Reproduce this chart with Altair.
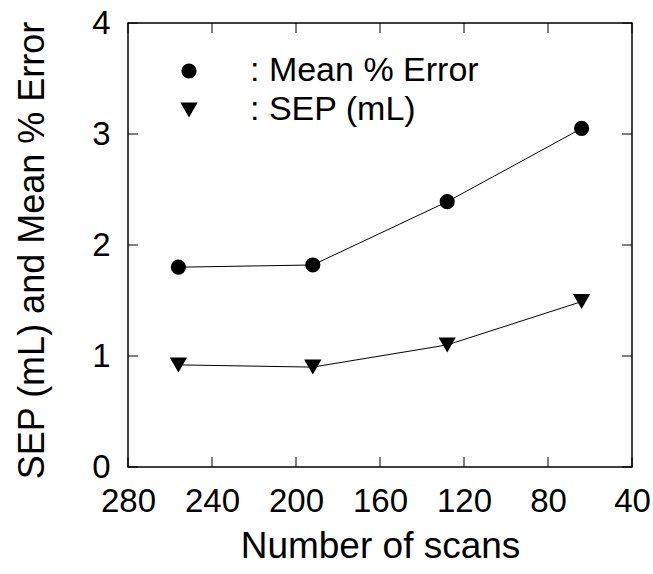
import altair as alt
import pandas as pd

scans = [256, 192, 128, 64]
mean_err = [1.80, 1.82, 2.39, 3.05]
sep = [0.92, 0.90, 1.10, 1.49]
series_names = ["Mean % Error", "SEP (mL)"]
x_ticks = [280, 240, 200, 160, 120, 80, 40]
y_ticks = [0, 1, 2, 3, 4]

rows = []
for s, m, e in zip(scans, mean_err, sep):
    rows.append({"scans": s, "value": m, "series": series_names[0]})
    rows.append({"scans": s, "value": e, "series": series_names[1]})
df = pd.DataFrame(rows)
xt = pd.DataFrame({"t": x_ticks})
yt = pd.DataFrame({"t": y_ticks})

FONT = "Liberation Sans"
W, H = 504, 444
xscale = alt.Scale(domain=[280, 40], nice=False, zero=False)
yscale = alt.Scale(domain=[0, 4], nice=False)

xaxis = alt.Axis(values=x_ticks, title="Number of scans", domain=False, ticks=False,
                 grid=False, labelFontSize=33, labelPadding=18, titleFontSize=37,
                 titleFontWeight="normal", titlePadding=10, labelFont=FONT, titleFont=FONT,
                 labelColor="black", titleColor="black", format="d", labelFlush=False)
yaxis = alt.Axis(values=y_ticks, title="SEP (mL) and Mean % Error", domain=False, ticks=False,
                 grid=False, labelFontSize=33, labelPadding=18, titleFontSize=36,
                 titleFontWeight="normal", titlePadding=40, titleY=H / 2 + 5,
                 labelFont=FONT, titleFont=FONT,
                 labelColor="black", titleColor="black", format="d", labelFlush=False)

legend = alt.Legend(title=None, orient="none", legendX=44, legendY=31,
                    labelExpr="': ' + datum.label", labelFontSize=34,
                    labelFont=FONT, labelColor="black", labelOffset=44,
                    symbolFillColor="black", symbolStrokeColor="black",
                    rowPadding=5, padding=0, labelLimit=400)

base = alt.Chart(df)
lines = base.mark_line(color="black", strokeWidth=1).encode(
    x=alt.X("scans:Q", scale=xscale, axis=xaxis),
    y=alt.Y("value:Q", scale=yscale, axis=yaxis),
    detail="series:N",
)
pts = base.mark_point(filled=True, color="black", opacity=1).encode(
    x=alt.X("scans:Q", scale=xscale),
    y=alt.Y("value:Q", scale=yscale),
    shape=alt.Shape("series:N", scale=alt.Scale(domain=series_names, range=["circle", "triangle-down"]),
                    legend=legend),
    size=alt.Size("series:N", scale=alt.Scale(domain=series_names, range=[230, 300]), legend=legend),
)

tick_len = 10
xt_bottom = alt.Chart(xt).mark_rule(color="black", strokeWidth=1).encode(
    x=alt.X("t:Q", scale=xscale), y=alt.value(H), y2=alt.value(H - tick_len))
xt_top = alt.Chart(xt).mark_rule(color="black", strokeWidth=1).encode(
    x=alt.X("t:Q", scale=xscale), y=alt.value(0), y2=alt.value(tick_len))
yt_left = alt.Chart(yt).mark_rule(color="black", strokeWidth=1).encode(
    y=alt.Y("t:Q", scale=yscale), x=alt.value(0), x2=alt.value(tick_len))
yt_right = alt.Chart(yt).mark_rule(color="black", strokeWidth=1).encode(
    y=alt.Y("t:Q", scale=yscale), x=alt.value(W), x2=alt.value(W - tick_len))

chart = alt.layer(lines, pts, xt_bottom, xt_top, yt_left, yt_right).properties(
    width=W, height=H,
    autosize=alt.AutoSizeParams(type="none"),
    padding={"left": 128, "top": 23, "right": 21, "bottom": 107},
    background="white",
).configure_view(stroke="black", strokeWidth=1.5)

chart.save("out.html", embed_options={"renderer": "svg", "actions": False})
